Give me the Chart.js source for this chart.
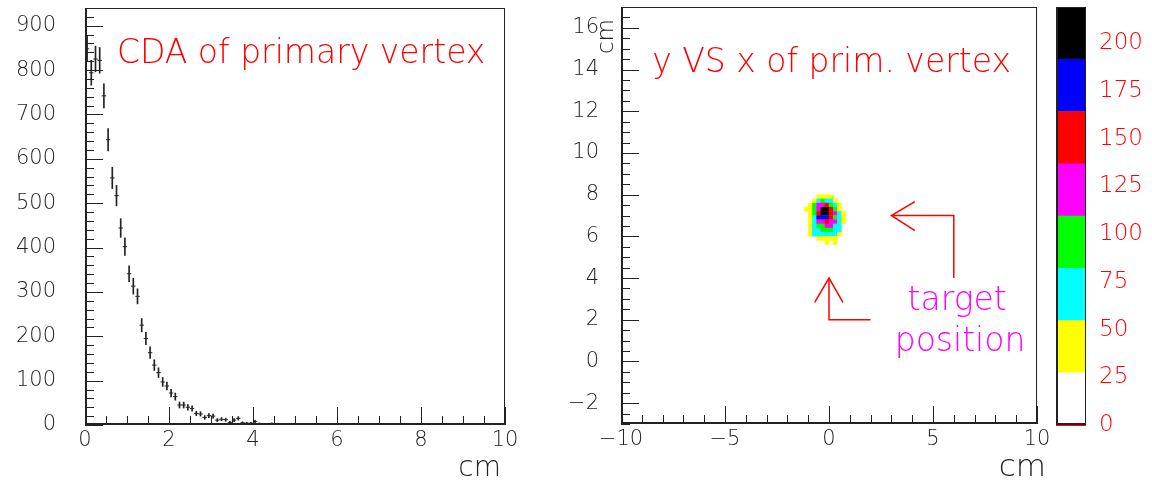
<!DOCTYPE html>
<html>
<head>
<meta charset="utf-8">
<title>CDA of primary vertex</title>
<script src="https://cdn.jsdelivr.net/npm/chart.js@4.4.0/dist/chart.umd.min.js"></script>
<style>
  body { margin: 0; background: #fff; }
  #wrap { position: relative; width: 1152px; height: 484px; }
  #wrap canvas { position: absolute; left: 0; top: 0; }
</style>
</head>
<body>
<div id="wrap">
  <canvas id="cdaChart" width="1152" height="484"></canvas>
  <canvas id="vertexChart" width="1152" height="484"></canvas>
  <canvas id="paletteChart" width="1152" height="484"></canvas>
</div>
<script>
// ---- CDA of primary vertex (1D histogram, 0.1 cm bins) ----
const cdaBins = [0.05, 0.15, 0.25, 0.35, 0.45, 0.55, 0.65, 0.75, 0.85, 0.95,
  1.05, 1.15, 1.25, 1.35, 1.45, 1.55, 1.65, 1.75, 1.85, 1.95,
  2.05, 2.15, 2.25, 2.35, 2.45, 2.55, 2.65, 2.75, 2.85, 2.95,
  3.05, 3.15, 3.25, 3.35, 3.45, 3.55, 3.65, 3.75, 3.85, 3.95,
  4.05, 4.15, 4.25, 4.35, 4.45, 4.55, 4.65, 4.75, 4.85, 4.95];
const cdaCounts = [848, 794, 825, 822, 742, 643, 557, 517, 444, 402,
  341, 313, 290, 225, 195, 163, 135, 118, 97, 88,
  72, 64, 45, 45, 40, 37, 26, 25, 17, 21,
  20, 11, 13, 12, 6, 11, 15, 5, 4, 4,
  8, 3, 2, 1, 3, 2, 0, 1, 2, 1];
const cdaErrors = [29, 28, 29, 29, 27, 25, 24, 23, 21, 20,
  18, 18, 17, 15, 14, 13, 12, 11, 10, 9,
  8.5, 8, 6.7, 6.7, 6.3, 6.1, 5.1, 5, 4.1, 4.6,
  4.5, 3.3, 3.6, 3.5, 2.4, 3.3, 3.9, 2.2, 2, 2,
  2.8, 1.7, 1.4, 1, 1.7, 1.4, 0, 1, 1.4, 1];
const cdaXTicks = [0, 2, 4, 6, 8, 10];
const cdaYTicks = [0, 100, 200, 300, 400, 500, 600, 700, 800, 900];

// ---- y VS x of primary vertex (2D histogram, 0.2 cm cells) ----
const blobX = [-1.1, -0.9, -0.7, -0.5, -0.3, -0.1, 0.1, 0.3, 0.5, 0.7];
const blobY = [7.9, 7.7, 7.5, 7.3, 7.1, 6.9, 6.7, 6.5, 6.3, 6.1, 5.9, 5.7];
const blobCounts = [
  [0, 0, 0, 41, 41, 41, 41, 0, 0, 0],
  [0, 0, 41, 68, 96, 68, 68, 41, 0, 0],
  [0, 41, 96, 123, 123, 150, 96, 68, 41, 0],
  [41, 41, 96, 123, 205, 219, 150, 96, 41, 0],
  [0, 41, 96, 150, 210, 205, 150, 123, 68, 41],
  [0, 41, 68, 178, 178, 178, 150, 96, 68, 41],
  [0, 41, 68, 123, 123, 150, 123, 123, 68, 41],
  [0, 41, 68, 96, 96, 123, 123, 68, 68, 0],
  [0, 41, 68, 68, 96, 96, 96, 68, 68, 0],
  [0, 41, 68, 68, 68, 68, 68, 68, 41, 0],
  [0, 0, 0, 41, 41, 41, 41, 41, 0, 0],
  [0, 0, 0, 0, 0, 41, 0, 41, 0, 0]
];
const blobCell = 0.2;
const vertexXTicks = [-10, -5, 0, 5, 10];
const vertexYTicks = [-2, 0, 2, 4, 6, 8, 10, 12, 14, 16];

// colour palette of the contour levels, lowest first
const paletteColors = ['#ffffff', '#ffff00', '#00ffff', '#00ff00', '#ff00ff', '#ff0000', '#0000ff', '#000000'];
const paletteTicks = [0, 25, 50, 75, 100, 125, 150, 175, 200];

// arrows pointing at the target (data coordinates)
const arrowLines = [
  [[6, 4], [6, 7], [3, 7]],
  [[4.13, 7.67], [3, 7], [4.13, 6.28]],
  [[2, 2], [0, 2], [0, 4]],
  [[-0.69, 2.83], [0, 4], [0.67, 2.83]]
];

const FONT = "'DejaVu Sans', sans-serif";
const AXIS_COLOR = '#222';

// Plugin: box round the plot area plus ROOT style ticks pointing inwards
const framePlugin = {
  id: 'frame',
  afterDraw(chart, args, opts) {
    const { ctx, chartArea: a, scales } = chart;
    ctx.save();
    ctx.strokeStyle = AXIS_COLOR;
    ctx.lineWidth = 1;
    ctx.strokeRect(a.left + 0.5, a.top + 0.5, a.right - a.left - 1, a.bottom - a.top - 1);
    ['x', 'y'].forEach(id => {
      const t = opts[id];
      if (!t) return;
      const s = scales[id];
      const first = Math.ceil(s.min / t.minor - 1e-9);
      const last = Math.floor(s.max / t.minor + 1e-9);
      for (let n = first; n <= last; n++) {
        const v = n * t.minor;
        const r = v / t.major;
        const len = Math.abs(r - Math.round(r)) < 1e-6 ? 18 : 9;
        const p = Math.round(s.getPixelForValue(v)) + 0.5;
        ctx.beginPath();
        if (id === 'x') {
          ctx.moveTo(p, a.bottom);
          ctx.lineTo(p, a.bottom - len);
        } else {
          ctx.moveTo(a.left, p);
          ctx.lineTo(a.left + len, p);
        }
        ctx.stroke();
      }
    });
    // thicker axis lines on the left and bottom
    ctx.lineWidth = 2;
    ctx.beginPath();
    ctx.moveTo(a.left + 1, a.top);
    ctx.lineTo(a.left + 1, a.bottom - 1);
    ctx.lineTo(a.right, a.bottom - 1);
    ctx.stroke();
    ctx.restore();
  }
};

// Plugin: free text and arrow lines. Text positions in data units unless px is set
const notesPlugin = {
  id: 'notes',
  afterDraw(chart, args, opts) {
    const { ctx, scales } = chart;
    ctx.save();
    (opts.lines || []).forEach(line => {
      ctx.strokeStyle = opts.lineColor || 'red';
      ctx.lineWidth = 1.5;
      ctx.beginPath();
      line.forEach((pt, i) => {
        const px = scales.x.getPixelForValue(pt[0]);
        const py = scales.y.getPixelForValue(pt[1]);
        if (i === 0) ctx.moveTo(px, py); else ctx.lineTo(px, py);
      });
      ctx.stroke();
    });
    (opts.texts || []).forEach(t => {
      const px = t.px ? t.x : scales.x.getPixelForValue(t.x);
      const py = t.px ? t.y : scales.y.getPixelForValue(t.y);
      ctx.save();
      ctx.translate(px, py);
      if (t.rotate) ctx.rotate(t.rotate);
      ctx.font = `${t.weight || 200} ${t.size}px ${FONT}`;
      ctx.fillStyle = t.color;
      ctx.textAlign = t.align || 'left';
      ctx.textBaseline = 'alphabetic';
      ctx.fillText(t.text, 0, 0);
      ctx.restore();
    });
    ctx.restore();
  }
};

function tickFont(size) {
  return { family: FONT, size: size, weight: 200 };
}

function minusLabel(v) {
  return v < 0 ? '\u2212' + Math.abs(v) : String(v);
}

// fixed axis sizes; the label padding must not push the plot area down
function fixWidth(w) {
  return s => { s.width = w; s.paddingTop = 0; s.paddingBottom = 0; };
}
function fixHeight(h) {
  return s => { s.height = h; s.paddingLeft = 0; s.paddingRight = 0; };
}

// Left: CDA histogram with error bars
function drawCdaChart() {
  const shown = cdaBins.map((x, i) => i).filter(i => cdaCounts[i] > 0);
  new Chart(document.getElementById('cdaChart'), {
    type: 'scatter',
    data: {
      datasets: [{
        type: 'bar',
        data: shown.map(i => ({ x: cdaBins[i], y: [cdaCounts[i] - cdaErrors[i], cdaCounts[i] + cdaErrors[i]] })),
        backgroundColor: AXIS_COLOR,
        borderWidth: 0,
        barThickness: 1
      }, {
        type: 'scatter',
        data: shown.map(i => ({ x: cdaBins[i], y: cdaCounts[i] })),
        pointStyle: 'line',
        pointRadius: 2.2,
        borderColor: AXIS_COLOR,
        borderWidth: 1
      }]
    },
    options: {
      responsive: false,
      animation: false,
      events: [],
      layout: { autoPadding: false, padding: { left: 0, top: 8, right: 647, bottom: 0 } },
      plugins: {
        legend: { display: false },
        tooltip: { enabled: false },
        frame: { x: { major: 2, minor: 0.5 }, y: { major: 100, minor: 20 } },
        notes: {
          texts: [
            { text: 'CDA of primary vertex', x: 0.76, y: 816, size: 33, color: '#ff0000' },
            { text: 'cm', x: 501, y: 476, size: 28, color: AXIS_COLOR, align: 'right', px: true }
          ]
        }
      },
      scales: {
        x: {
          type: 'linear', min: 0, max: 10, offset: false,
          afterBuildTicks: s => { s.ticks = cdaXTicks.map(v => ({ value: v })); },
          afterFit: fixHeight(59),
          ticks: { font: tickFont(21), color: AXIS_COLOR, padding: 3, maxRotation: 0, autoSkip: false },
          grid: { display: false, drawTicks: false },
          border: { display: false }
        },
        y: {
          type: 'linear', min: 0, max: 940,
          afterBuildTicks: s => { s.ticks = cdaYTicks.map(v => ({ value: v })); },
          afterFit: fixWidth(85),
          ticks: { font: tickFont(21), color: AXIS_COLOR, padding: 29 },
          grid: { display: false, drawTicks: false },
          border: { display: false }
        }
      }
    },
    plugins: [framePlugin, notesPlugin]
  });
}

// contour level index of a cell content
function levelOf(v, max) {
  return Math.min(paletteColors.length - 1, Math.floor(v / (max / paletteColors.length)));
}

// Right: y VS x cells of the primary vertex
function drawVertexChart(maxCount) {
  const cells = [];
  blobCounts.forEach((row, r) => {
    row.forEach((v, c) => {
      if (v > 0) cells.push({ x: blobX[c], y: blobY[r], v: v });
    });
  });

  new Chart(document.getElementById('vertexChart'), {
    type: 'scatter',
    data: {
      datasets: [{
        data: cells,
        pointStyle: 'rect',
        pointRadius: ctx => {
          const s = ctx.chart.scales.x;
          const side = Math.abs(s.getPixelForValue(blobCell) - s.getPixelForValue(0)) + 0.4;
          return side / Math.SQRT2;
        },
        backgroundColor: ctx => paletteColors[levelOf(ctx.raw.v, maxCount)],
        borderWidth: 0
      }]
    },
    options: {
      responsive: false,
      animation: false,
      events: [],
      layout: { autoPadding: false, padding: { left: 561, top: 7, right: 115, bottom: 0 } },
      plugins: {
        legend: { display: false },
        tooltip: { enabled: false },
        frame: { x: { major: 5, minor: 1 }, y: { major: 2, minor: 0.5 } },
        notes: {
          lines: arrowLines,
          lineColor: '#ff0000',
          texts: [
            { text: 'y VS x of prim. vertex', x: -8.5, y: 13.9, size: 33, color: '#ff0000' },
            { text: 'target', x: 6.16, y: 2.48, size: 33, color: '#ff00ff', align: 'center' },
            { text: 'position', x: 6.3, y: 0.48, size: 33, color: '#ff00ff', align: 'center' },
            { text: 'cm', x: 1046, y: 476, size: 31, color: AXIS_COLOR, align: 'right', px: true },
            { text: 'cm', x: 613, y: 19, size: 23, color: AXIS_COLOR, align: 'right', px: true, rotate: -Math.PI / 2 }
          ]
        }
      },
      scales: {
        x: {
          type: 'linear', min: -10, max: 10,
          afterBuildTicks: s => { s.ticks = vertexXTicks.map(v => ({ value: v })); },
          afterFit: fixHeight(60),
          ticks: { font: tickFont(21), color: AXIS_COLOR, padding: 3, maxRotation: 0, autoSkip: false, callback: minusLabel },
          grid: { display: false, drawTicks: false },
          border: { display: false }
        },
        y: {
          type: 'linear', min: -3, max: 17,
          afterBuildTicks: s => { s.ticks = vertexYTicks.map(v => ({ value: v })); },
          afterFit: fixWidth(60),
          ticks: { font: tickFont(21), color: AXIS_COLOR, padding: 22, callback: minusLabel },
          grid: { display: false, drawTicks: false },
          border: { display: false }
        }
      }
    },
    plugins: [framePlugin, notesPlugin]
  });
}

// Colour scale to the right of the 2D plot
function drawPaletteChart(maxCount) {
  const step = maxCount / paletteColors.length;
  new Chart(document.getElementById('paletteChart'), {
    type: 'bar',
    data: {
      labels: [''],
      datasets: paletteColors.map(c => ({
        data: [step],
        backgroundColor: c,
        borderWidth: 0,
        barPercentage: 1,
        categoryPercentage: 1
      }))
    },
    options: {
      responsive: false,
      animation: false,
      events: [],
      layout: { autoPadding: false, padding: { left: 1056, top: 7, right: 0, bottom: 59 } },
      plugins: {
        legend: { display: false },
        tooltip: { enabled: false },
        frame: {}
      },
      scales: {
        x: { display: false, stacked: true },
        y: {
          position: 'right', stacked: true, min: 0, max: maxCount, z: 1,
          afterBuildTicks: s => { s.ticks = paletteTicks.map(v => ({ value: v })); },
          afterFit: fixWidth(66),
          ticks: { font: tickFont(23), color: '#ff0000', padding: 13 },
          grid: { color: '#ff0000', lineWidth: 1, drawTicks: false },
          border: { display: false }
        }
      }
    },
    plugins: [framePlugin]
  });
}

document.addEventListener('DOMContentLoaded', function() {
  const maxCount = Math.max(...blobCounts.map(row => Math.max(...row)));
  drawCdaChart();
  drawVertexChart(maxCount);
  drawPaletteChart(maxCount);
});
</script>
</body>
</html>
